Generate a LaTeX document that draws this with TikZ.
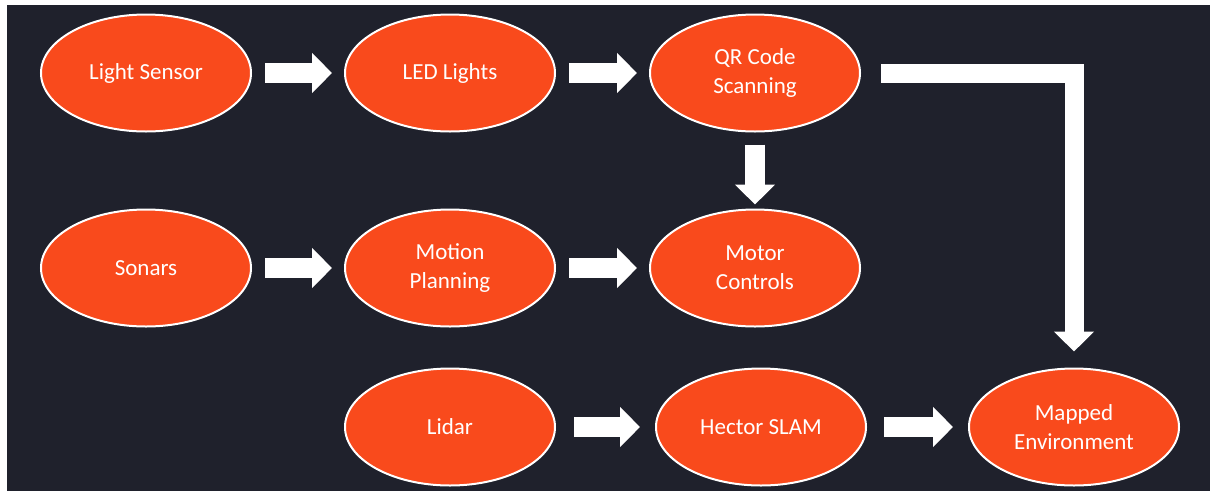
\documentclass[tikz,border=0pt]{standalone}
\usepackage{fontspec}
\setmainfont{Carlito}
\usetikzlibrary{shapes.geometric,arrows.meta}
\definecolor{bgdark}{HTML}{1F212C}
\definecolor{nodeorange}{HTML}{F94A1C}
\tikzset{
  blob/.style={ellipse, draw=white, line width=2pt, fill=nodeorange,
    minimum width=210pt, minimum height=117pt, inner sep=0pt,
    text=white, align=center, font=\fontsize{23}{29}\selectfont},
  fat/.style={draw=white, line width=20pt, line join=miter,
    -{Triangle[length=20pt,width=39pt]}},
}
\begin{document}
\begin{tikzpicture}[x=1pt,y=-1pt]
  \useasboundingbox (0,0) rectangle (1210,491);
  \fill[white] (0,0) rectangle (1210,491);
  \fill[bgdark] (7,5) rectangle (1210,491);

  % first row
  \node[blob] (ls)  at (146,73)  {Light Sensor};
  \node[blob] (led) at (450,73)  {LED Lights};
  \node[blob] (qr)  at (755,73)  {QR Code\\Scanning};
  % second row
  \node[blob] (son) at (146,268) {Sonars};
  \node[blob] (mp)  at (450,268) {Motion\\Planning};
  \node[blob] (mc)  at (755,268) {Motor\\Controls};
  % third row
  \node[blob] (lid) at (450,427) {Lidar};
  \node[blob] (hs)  at (761,427) {Hector SLAM};
  \node[blob] (map) at (1074,427) {Mapped\\Environment};

  % block arrows
  \draw[fat, shorten <=13pt, shorten >=12pt] (ls) -- (led);
  \draw[fat, shorten <=13pt, shorten >=12pt] (led) -- (qr);
  \draw[fat, shorten <=13pt, shorten >=12pt] (son) -- (mp);
  \draw[fat, shorten <=13pt, shorten >=12pt] (mp) -- (mc);
  \draw[fat, shorten <=18pt, shorten >=15pt] (lid) -- (hs);
  \draw[fat, shorten <=17pt, shorten >=15pt] (hs) -- (map);
  \draw[fat, line width=20pt, shorten <=12pt, shorten >=4pt] (qr) -- (mc);
  \draw[fat, line width=19pt]
    ([xshift=20pt]qr.east) -| ([yshift=16pt]map.north);
\end{tikzpicture}
\end{document}
